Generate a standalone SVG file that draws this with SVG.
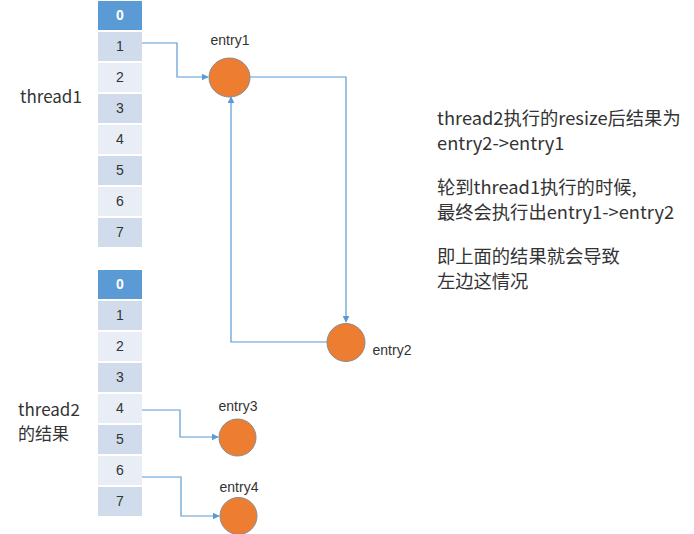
<svg xmlns="http://www.w3.org/2000/svg" width="694" height="534" viewBox="0 0 694 534">
<style>
.cell0{fill:#5B9BD5}
.cellA{fill:#D0DCEC}
.cellB{fill:#E8EDF6}
.num{font-family:"Liberation Sans",Arial,sans-serif;font-size:14px;fill:#333;text-anchor:middle}
.num0{font-family:"Liberation Sans",Arial,sans-serif;font-size:14px;fill:#fff;font-weight:bold;text-anchor:middle}
.node{fill:#ED7D31;stroke:#8A8A8A;stroke-width:1}
.lbl{font-family:"Liberation Sans",Arial,sans-serif;font-size:14px;fill:#333;text-anchor:middle}
.txt{font-family:"Noto Sans CJK SC","Noto Sans",sans-serif;font-size:17px;fill:#333}
.note{font-family:"Noto Sans CJK SC","Noto Sans",sans-serif;font-size:18.3px;fill:#333}
.conn{fill:none;stroke:#5B9BD5;stroke-width:1.2;marker-end:url(#arr)}
</style>
<defs>
<marker id="arr" viewBox="0 0 10 10" refX="9" refY="5" markerWidth="7" markerHeight="7" markerUnits="userSpaceOnUse" orient="auto">
<path d="M0,0 L10,5 L0,10 z" fill="#5B9BD5"/>
</marker>
</defs>
<rect width="694" height="534" fill="#fff"/>
<g id="array1">
<rect class="cell0" x="98" y="1" width="44" height="29"/><text class="num0" x="120" y="20">0</text>
<rect class="cellA" x="98" y="32" width="44" height="29"/><text class="num" x="120" y="51">1</text>
<rect class="cellB" x="98" y="63" width="44" height="29"/><text class="num" x="120" y="82">2</text>
<rect class="cellA" x="98" y="94" width="44" height="29"/><text class="num" x="120" y="113">3</text>
<rect class="cellB" x="98" y="125" width="44" height="29"/><text class="num" x="120" y="144">4</text>
<rect class="cellA" x="98" y="156" width="44" height="29"/><text class="num" x="120" y="175">5</text>
<rect class="cellB" x="98" y="187" width="44" height="29"/><text class="num" x="120" y="206">6</text>
<rect class="cellA" x="98" y="218" width="44" height="29"/><text class="num" x="120" y="237">7</text>
</g>
<g id="array2">
<rect class="cell0" x="98" y="270" width="44" height="29"/><text class="num0" x="120" y="289">0</text>
<rect class="cellA" x="98" y="301" width="44" height="29"/><text class="num" x="120" y="320">1</text>
<rect class="cellB" x="98" y="332" width="44" height="29"/><text class="num" x="120" y="351">2</text>
<rect class="cellA" x="98" y="363" width="44" height="29"/><text class="num" x="120" y="382">3</text>
<rect class="cellB" x="98" y="394" width="44" height="29"/><text class="num" x="120" y="413">4</text>
<rect class="cellA" x="98" y="425" width="44" height="29"/><text class="num" x="120" y="444">5</text>
<rect class="cellB" x="98" y="456" width="44" height="29"/><text class="num" x="120" y="475">6</text>
<rect class="cellA" x="98" y="487" width="44" height="29"/><text class="num" x="120" y="506">7</text>
</g>
<g id="label-thread1"><text class="txt" x="20" y="103">thread1</text></g>
<g id="label-thread2"><text class="txt" x="18" y="416">thread2</text><text class="txt" x="18" y="440">的结果</text></g>
<g id="connectors">
<path class="conn" d="M142,43 H177 V77 H208"/>
<path class="conn" d="M250,77 H346 V322"/>
<path class="conn" d="M327,342 H231 V97"/>
<path class="conn" d="M142,410 H180 V437 H218"/>
<path class="conn" d="M142,477 H181 V516 H219"/>
</g>
<g id="entry1"><ellipse class="node" cx="229.5" cy="77.5" rx="20.5" ry="19.5"/><text class="lbl" x="230" y="45">entry1</text></g>
<g id="entry2"><circle class="node" cx="346" cy="342.5" r="19"/><text class="lbl" x="392" y="355">entry2</text></g>
<g id="entry3"><circle class="node" cx="237.5" cy="437.5" r="18.5"/><text class="lbl" x="238" y="411">entry3</text></g>
<g id="entry4"><circle class="node" cx="238.5" cy="516" r="18.5"/><text class="lbl" x="239" y="492">entry4</text></g>
<g id="notes">
<text class="note" x="437" y="125">thread2执行的resize后结果为</text>
<text class="note" x="437" y="150">entry2-&gt;entry1</text>
<text class="note" x="437" y="194">轮到thread1执行的时候,</text>
<text class="note" x="437" y="219">最终会执行出entry1-&gt;entry2</text>
<text class="note" x="437" y="263">即上面的结果就会导致</text>
<text class="note" x="437" y="288">左边这情况</text>
</g>
</svg>
